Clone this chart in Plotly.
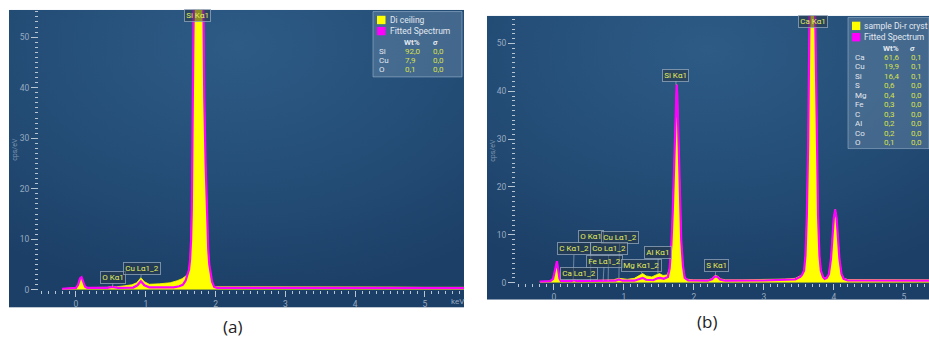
import base64
import plotly.graph_objects as go

W, H = 929, 353
FONT = "Roboto"

# ---------------- spectrum (a): Di ceiling ----------------
a_meas_kev = [-0.20, -0.05, 0.00, 0.03, 0.06, 0.08, 0.10, 0.13, 0.16, 0.30, 0.45, 0.52,
              0.58, 0.70, 0.80, 0.87, 0.93, 0.98, 1.05, 1.20, 1.35, 1.45, 1.52, 1.58,
              1.60, 1.62, 1.635, 1.65, 1.66, 1.668, 1.677, 1.686, 1.70, 1.73, 1.755,
              1.78, 1.81, 1.824, 1.838, 1.857, 1.87, 1.88, 1.895, 1.91, 1.928, 1.95,
              1.97, 2.00, 2.50, 3.00, 3.50, 4.00, 4.50, 5.00, 5.60]
a_meas_cps = [0.2, 0.3, 0.4, 1.0, 2.3, 2.5, 1.8, 0.6, 0.45, 0.45, 0.5, 0.7,
              0.6, 0.8, 1.0, 1.4, 2.4, 1.6, 1.1, 1.2, 1.4, 1.8, 2.2, 2.8,
              3.1, 3.8, 6, 10, 16, 25, 38, 55, 80, 105, 112,
              105, 80, 55, 38, 25, 17, 12, 8, 5, 2.8, 1.3,
              0.7, 0.6, 0.6, 0.6, 0.65, 0.55, 0.55, 0.5, 0.5]

a_fit_kev = [-0.20, -0.05, 0.00, 0.03, 0.06, 0.08, 0.10, 0.13, 0.16, 0.45, 0.52, 0.60,
             0.82, 0.88, 0.93, 0.98, 1.05, 1.40, 1.48, 1.53, 1.57, 1.60, 1.62, 1.635,
             1.65, 1.66, 1.668, 1.677, 1.686, 1.70, 1.73, 1.755, 1.78, 1.81, 1.824,
             1.838, 1.857, 1.87, 1.88, 1.895, 1.91, 1.93, 1.95, 1.98, 2.02, 3.00,
             4.00, 5.00, 5.60]
a_fit_cps = [0.2, 0.3, 0.4, 1.0, 2.3, 2.5, 1.8, 0.6, 0.4, 0.4, 0.6, 0.4,
             0.45, 0.9, 1.7, 0.9, 0.5, 0.5, 0.7, 1.0, 1.8, 3.0, 4.0, 6,
             10, 16, 25, 38, 55, 80, 105, 112, 105, 80, 55,
             38, 25, 17, 12, 8, 5, 3.0, 1.6, 0.6, 0.4, 0.4,
             0.4, 0.35, 0.35]

# ---------------- spectrum (b): sample Di-r cryst ----------------
b_meas_kev = [-0.20, -0.05, -0.01, 0.015, 0.035, 0.045, 0.06, 0.08, 0.10, 0.25, 0.29,
              0.33, 0.50, 0.70, 0.85, 0.93, 0.98, 1.05, 1.15, 1.22, 1.27, 1.32, 1.40,
              1.46, 1.51, 1.56, 1.62, 1.655, 1.68, 1.70, 1.72, 1.745, 1.755, 1.765,
              1.785, 1.80, 1.82, 1.845, 1.87, 1.90, 2.00, 2.20, 2.26, 2.30, 2.34,
              2.38, 2.45, 2.70, 3.00, 3.30, 3.45, 3.52, 3.545, 3.575, 3.595, 3.615,
              3.635, 3.655, 3.695, 3.735, 3.755, 3.775, 3.795, 3.815, 3.845, 3.87,
              3.90, 3.93, 3.96, 3.98, 4.00, 4.02, 4.04, 4.06, 4.08, 4.11, 4.14,
              4.20, 4.60, 5.00, 5.40]
b_meas_cps = [0.2, 0.3, 0.8, 2.5, 4.3, 4.5, 3.0, 0.9, 0.4, 0.4, 0.6,
              0.4, 0.45, 0.5, 0.6, 0.9, 0.8, 0.7, 0.9, 1.4, 1.9, 1.4, 1.2,
              1.6, 1.9, 1.5, 1.6, 3, 8, 15, 26, 38, 41.4, 39,
              28, 18, 9, 3.5, 1.2, 0.7, 0.6, 0.6, 0.8, 1.5, 1.4,
              0.8, 0.6, 0.6, 0.65, 0.75, 0.9, 1.3, 1.6, 2.5, 5.6, 14,
              30, 55, 118, 55, 30, 14, 5.6, 2.5, 1.3, 0.9,
              1.1, 1.8, 5.0, 9.3, 13.5, 15.3, 13.5, 9.3, 5.0, 1.8, 0.9,
              0.65, 0.65, 0.6, 0.6]

b_fit_kev = [-0.20, -0.05, -0.01, 0.015, 0.035, 0.045, 0.06, 0.08, 0.10, 0.25, 0.29,
             0.33, 0.50, 0.70, 0.88, 0.93, 0.98, 1.15, 1.22, 1.27, 1.32, 1.42, 1.48,
             1.52, 1.57, 1.63, 1.655, 1.68, 1.70, 1.72, 1.745, 1.755, 1.765, 1.785,
             1.80, 1.82, 1.845, 1.87, 1.92, 2.20, 2.26, 2.30, 2.34, 2.38, 2.45,
             3.00, 3.45, 3.52, 3.545, 3.575, 3.595, 3.615, 3.635, 3.655, 3.695,
             3.735, 3.755, 3.775, 3.795, 3.815, 3.845, 3.87, 3.90, 3.93, 3.96,
             3.98, 4.00, 4.02, 4.04, 4.06, 4.08, 4.11, 4.14, 4.20, 5.40]
b_fit_cps = [0.2, 0.3, 0.8, 2.5, 4.3, 4.5, 3.0, 0.9, 0.35, 0.3, 0.5,
             0.3, 0.35, 0.35, 0.4, 0.65, 0.4, 0.4, 0.7, 1.0, 0.6, 0.5, 0.9,
             1.0, 0.8, 1.2, 3, 8, 15, 26, 38, 41.4, 39, 28,
             18, 9, 3.5, 1.0, 0.45, 0.4, 0.7, 1.3, 1.2, 0.6, 0.4,
             0.45, 0.7, 1.2, 1.6, 2.5, 5.6, 14, 30, 55, 118,
             55, 30, 14, 5.6, 2.5, 1.2, 0.8, 1.0, 1.8, 5.0,
             9.3, 13.5, 15.3, 13.5, 9.3, 5.0, 1.8, 0.8, 0.45, 0.4]

# ---------------- quantification tables ----------------
a_name = "Di ceiling"
a_elements = ["Si", "Cu", "O"]
a_wt = ["92,0", "7,9", "0,1"]
a_sigma = ["0,0", "0,0", "0,0"]

b_name = "sample Di-r cryst"
b_elements = ["Ca", "Cu", "Si", "S", "Mg", "Fe", "C", "Al", "Co", "O"]
b_wt = ["61,6", "19,9", "16,4", "0,6", "0,4", "0,3", "0,3", "0,2", "0,2", "0,1"]
b_sigma = ["0,1", "0,1", "0,1", "0,0", "0,0", "0,0", "0,0", "0,0", "0,0", "0,0"]

# ---------------- peak labels: text, line energy, tip cps, box keV, box cps ----------------
a_peaks = [("Si Kα1", None, None, 1.748, 54.2),
           ("O Kα1", 0.525, 0.6, 0.534, 2.4),
           ("Cu Lα1_2", 0.93, 2.4, 0.941, 4.15)]
b_peaks = [("Ca Kα1", None, None, 3.70, 54.5),
           ("Si Kα1", 1.745, 41.4, 1.745, 43.4),
           ("O Kα1", 0.525, 0.4, 0.529, 9.6),
           ("Cu Lα1_2", 0.93, 0.9, 0.94, 9.46),
           ("C Kα1_2", 0.277, 0.5, 0.29, 7.05),
           ("Co Lα1_2", 0.776, 0.4, 0.784, 7.05),
           ("Fe Lα1_2", 0.705, 0.4, 0.722, 4.47),
           ("Ca Lα1_2", 0.341, 0.5, 0.355, 1.9),
           ("Mg Kα1_2", 1.254, 1.9, 1.249, 3.5),
           ("Al Kα1", 1.487, 1.9, 1.492, 6.2),
           ("S Kα1", 2.308, 1.5, 2.318, 3.5)]

YELLOW = "#ffff00"
MAGENTA = "#ff00ff"
TICK_TXT = "#97aac0"
TICK_COL = "#b8c5d2"
LBL_TXT = "#e6ee5c"
VAL_TXT = "#d8e04c"
LEG_TXT = "#e2e8f0"


def px(x):
    return x / W


def py(y):
    return 1 - y / H


def gradient_image(x0, y0, x1, y1):
    w, h = x1 - x0, y1 - y0
    svg = (f'<svg xmlns="http://www.w3.org/2000/svg" width="{w}" height="{h}" '
           f'viewBox="0 0 {w} {h}" preserveAspectRatio="none">'
           '<defs><radialGradient id="g" cx="0.5" cy="0.12" r="0.85">'
           '<stop offset="0" stop-color="#2d5b86"/>'
           '<stop offset="0.6" stop-color="#234c75"/>'
           '<stop offset="1" stop-color="#1c3f67"/>'
           '</radialGradient></defs>'
           f'<rect width="{w}" height="{h}" fill="url(#g)"/></svg>')
    src = "data:image/svg+xml;base64," + base64.b64encode(svg.encode()).decode()
    return dict(source=src, xref="paper", yref="paper", x=px(x0), y=py(y0),
                sizex=px(w), sizey=h / H, sizing="stretch", xanchor="left",
                yanchor="top", layer="below")


fig = go.Figure()

for kev, cps, xa, ya in [(a_meas_kev, a_meas_cps, "x", "y"),
                         (b_meas_kev, b_meas_cps, "x2", "y2")]:
    fig.add_trace(go.Scatter(x=kev, y=cps, xaxis=xa, yaxis=ya, mode="lines",
                             fill="tozeroy", fillcolor=YELLOW,
                             line=dict(color=YELLOW, width=0.8),
                             showlegend=False, hoverinfo="skip"))
for kev, cps, xa, ya in [(a_fit_kev, a_fit_cps, "x", "y"),
                         (b_fit_kev, b_fit_cps, "x2", "y2")]:
    fig.add_trace(go.Scatter(x=kev, y=cps, xaxis=xa, yaxis=ya, mode="lines",
                             line=dict(color=MAGENTA, width=2.2),
                             showlegend=False, hoverinfo="skip"))

xcommon = dict(showgrid=False, zeroline=False, showline=False, dtick=1, tick0=0,
               ticks="outside", ticklen=6, tickwidth=1.2, tickcolor=TICK_COL,
               tickfont=dict(family=FONT, size=8.5, color=TICK_TXT),
               minor=dict(dtick=0.1, ticks="outside", ticklen=3, tickwidth=1,
                          tickcolor=TICK_COL))
ycommon = dict(showgrid=False, zeroline=False, showline=False, dtick=10, tick0=0,
               ticks="outside", ticklen=7, tickwidth=1.2, tickcolor=TICK_COL,
               tickfont=dict(family=FONT, size=8.5, color=TICK_TXT),
               minor=dict(dtick=1, ticks="outside", ticklen=3.5, tickwidth=1.1,
                          tickcolor=TICK_COL))

fig.update_layout(
    width=W, height=H, margin=dict(l=0, r=0, t=0, b=0),
    paper_bgcolor="white", plot_bgcolor="rgba(0,0,0,0)",
    xaxis=dict(domain=[px(39), px(464)], range=[-0.53, 5.56], anchor="y", **xcommon),
    yaxis=dict(domain=[py(294), py(10)], range=[0, 55.4], anchor="x", **ycommon),
    xaxis2=dict(domain=[px(516), 1.0], range=[-0.54, 5.36], anchor="y2", **xcommon),
    yaxis2=dict(domain=[py(286.7), py(16)], range=[0, 55.8], anchor="x2", **ycommon),
    images=[gradient_image(9, 10, 464, 312), gradient_image(487, 16, 929, 304)],
)

shapes = []
ann = []


def paper_text(x, y, text, size, color, xanchor="left", angle=0, family=FONT):
    ann.append(dict(xref="paper", yref="paper", x=px(x), y=py(y), text=text,
                    showarrow=False, xanchor=xanchor, yanchor="middle", textangle=angle,
                    borderpad=0, font=dict(family=family, size=size, color=color)))


def legend_block(box, sq_x, sq_y, name, elements, wt, sigma, col_x, head_y, row0, dy):
    x0, y0, x1, y1 = box
    shapes.append(dict(type="rect", xref="paper", yref="paper", x0=px(x0), x1=px(x1),
                       y0=py(y1), y1=py(y0), fillcolor="rgba(120,150,180,0.38)",
                       line=dict(color="rgba(160,185,210,0.55)", width=1), layer="above"))
    for (sy, col, label) in [(sq_y[0], YELLOW, name), (sq_y[1], MAGENTA, "Fitted Spectrum")]:
        shapes.append(dict(type="rect", xref="paper", yref="paper", x0=px(sq_x[0]),
                           x1=px(sq_x[1]), y0=py(sy + 8.5), y1=py(sy), fillcolor=col,
                           line=dict(width=0), layer="above"))
        paper_text(sq_x[1] + 3, sy + 4.3, label, 8.5, LEG_TXT)
    ex, vx, sx = col_x
    paper_text(vx + 8, head_y, "<b>Wt%</b>", 8, LEG_TXT, "center")
    paper_text(sx + 3, head_y, "<b><i>σ</i></b>", 8, LEG_TXT, "center")
    for i, (el, w_, s_) in enumerate(zip(elements, wt, sigma)):
        yy = row0 + i * dy
        paper_text(ex, yy, el, 8, LEG_TXT)
        paper_text(vx, yy, w_, 8, VAL_TXT)
        paper_text(sx, yy, s_, 8, VAL_TXT)


legend_block((373, 11.7, 462, 78), (377, 385.5), (16, 27.3), a_name, a_elements,
             a_wt, a_sigma, (377.5, 404, 432), 42.7, 52, 9.5)
legend_block((848, 17.7, 929, 150.7), (852, 860.3), (22, 33.5), b_name, b_elements,
             b_wt, b_sigma, (853.5, 882.5, 909.5), 48.7, 58.3, 9.6)


def peak_labels(peaks, xr, yr):
    for text, tx, ty, bx, by in peaks:
        base = dict(text=text, xref=xr, yref=yr, bgcolor="rgba(40,55,70,0.55)",
                    bordercolor="rgba(150,170,190,0.75)", borderwidth=1, borderpad=1.2,
                    xanchor="center", yanchor="middle",
                    font=dict(family=FONT, size=8, color=LBL_TXT))
        if tx is None:
            ann.append(dict(x=bx, y=by, showarrow=False, **base))
        else:
            ann.append(dict(x=tx, y=ty, ax=bx, ay=by, axref=xr, ayref=yr, showarrow=True,
                            arrowhead=0, arrowwidth=0.8,
                            arrowcolor="rgba(170,185,200,0.75)", standoff=0, **base))


peak_labels(a_peaks, "x", "y")
peak_labels(b_peaks, "x2", "y2")

# axis titles and unit
for xx in (15, 493):
    paper_text(xx, 152, "cps/eV", 7, "#7f95ad", "center", -90)
paper_text(457, 306, "keV", 8, TICK_TXT, "center")

# panel captions
paper_text(232, 331, "(a)", 17, "#222222", "center", family="Open Sans")
paper_text(707, 326, "(b)", 17, "#222222", "center", family="Open Sans")

fig.update_layout(shapes=shapes, annotations=ann)
fig.write_html("out.html")
